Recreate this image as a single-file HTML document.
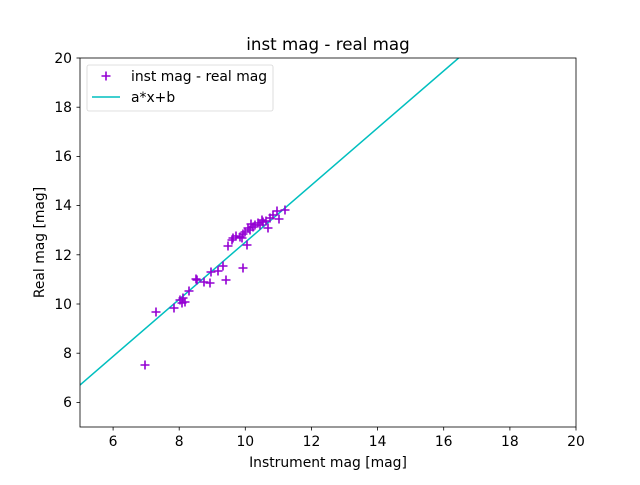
<!DOCTYPE html>
<html><head><style>body{margin:0;background:#fff}</style></head><body>
<svg width="640" height="480" xmlns="http://www.w3.org/2000/svg" font-family="DejaVu Sans, Liberation Sans, sans-serif">
<rect width="640" height="480" fill="#fff"/>
<defs><clipPath id="c"><rect x="80" y="58" width="496" height="369"/></clipPath>
<path id="m" d="M-4.5 0H4.5M0 -4.5V4.5" stroke="#9400d3" stroke-width="1.6"/></defs>
<line x1="80" y1="385" x2="458.6" y2="58" stroke="#00bfbf" stroke-width="1.5" clip-path="url(#c)"/>
<g>
<use href="#m" x="145" y="365"/><use href="#m" x="156" y="312"/><use href="#m" x="174" y="308"/><use href="#m" x="182" y="303"/><use href="#m" x="183" y="298"/><use href="#m" x="185" y="302"/><use href="#m" x="180" y="300"/><use href="#m" x="189" y="291"/><use href="#m" x="196" y="279"/><use href="#m" x="197" y="280"/><use href="#m" x="204" y="282"/><use href="#m" x="210" y="283"/><use href="#m" x="211" y="272"/><use href="#m" x="218" y="271"/><use href="#m" x="223" y="266"/><use href="#m" x="226" y="280"/><use href="#m" x="243" y="268"/><use href="#m" x="228" y="246"/><use href="#m" x="232" y="240"/><use href="#m" x="233" y="238"/><use href="#m" x="240" y="237"/><use href="#m" x="243" y="234"/><use href="#m" x="245" y="232"/><use href="#m" x="247" y="245"/><use href="#m" x="248" y="228"/><use href="#m" x="251" y="224"/><use href="#m" x="255" y="225"/><use href="#m" x="258" y="223"/><use href="#m" x="262" y="220"/><use href="#m" x="263" y="222"/><use href="#m" x="268" y="228"/><use href="#m" x="270" y="218"/><use href="#m" x="273" y="215"/><use href="#m" x="277" y="211"/><use href="#m" x="279" y="219"/><use href="#m" x="285" y="210"/><use href="#m" x="242" y="238"/><use href="#m" x="253" y="227"/><use href="#m" x="260" y="225"/><use href="#m" x="266" y="221"/><use href="#m" x="236" y="236"/><use href="#m" x="250" y="230"/>
</g>
<rect x="80" y="58" width="496" height="369" fill="none" stroke="#000" stroke-width="0.8"/>
<g font-size="13.9" fill="#000" text-anchor="middle">
<g stroke="#000" stroke-width="0.8">
<line x1="113.1" y1="427" x2="113.1" y2="430.5"/><line x1="179.2" y1="427" x2="179.2" y2="430.5"/><line x1="245.3" y1="427" x2="245.3" y2="430.5"/><line x1="311.5" y1="427" x2="311.5" y2="430.5"/><line x1="377.6" y1="427" x2="377.6" y2="430.5"/><line x1="443.7" y1="427" x2="443.7" y2="430.5"/><line x1="509.9" y1="427" x2="509.9" y2="430.5"/><line x1="576" y1="427" x2="576" y2="430.5"/>
<line x1="76.5" y1="402.4" x2="80" y2="402.4"/><line x1="76.5" y1="353.2" x2="80" y2="353.2"/><line x1="76.5" y1="304" x2="80" y2="304"/><line x1="76.5" y1="254.8" x2="80" y2="254.8"/><line x1="76.5" y1="205.6" x2="80" y2="205.6"/><line x1="76.5" y1="156.4" x2="80" y2="156.4"/><line x1="76.5" y1="107.2" x2="80" y2="107.2"/><line x1="76.5" y1="58" x2="80" y2="58"/>
</g>
<text x="113.1" y="446">6</text><text x="179.2" y="446">8</text><text x="245.3" y="446">10</text><text x="311.5" y="446">12</text><text x="377.6" y="446">14</text><text x="443.7" y="446">16</text><text x="509.9" y="446">18</text><text x="576" y="446">20</text>
<g text-anchor="end"><text x="72" y="407">6</text><text x="72" y="358">8</text><text x="72" y="309">10</text><text x="72" y="260">12</text><text x="72" y="210">14</text><text x="72" y="161">16</text><text x="72" y="112">18</text><text x="72" y="63">20</text></g>
<text x="328" y="467">Instrument mag [mag]</text>
<text transform="translate(44,242.5) rotate(-90)">Real mag [mag]</text>
<text x="328" y="50" font-size="16.7">inst mag - real mag</text>
</g>
<rect x="87" y="65" width="186" height="46" rx="2" fill="#fff" stroke="#ccc" stroke-width="0.8" opacity="0.8"/>
<use href="#m" x="106" y="76"/>
<line x1="92" y1="97" x2="120" y2="97" stroke="#00bfbf" stroke-width="1.5"/>
<text x="131" y="81" font-size="13.9" fill="#000">inst mag - real mag</text>
<text x="131" y="102" font-size="13.9" fill="#000">a*x+b</text>
</svg>
</body></html>
